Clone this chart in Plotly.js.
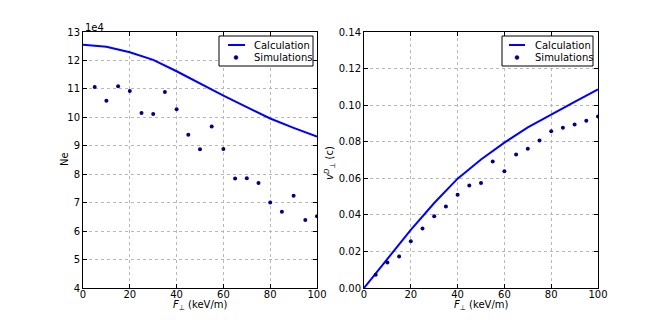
<!DOCTYPE html>
<html>
<head>
<meta charset="utf-8">
<script src="https://cdn.plot.ly/plotly-3.0.1.min.js"></script>
<style>
  html, body { margin: 0; padding: 0; background: #fff; }
  #chart { width: 665px; height: 320px; }
</style>
</head>
<body>
<div id="chart"></div>
<script>
// field values (keV/m)
const calcF = [0, 10, 20, 30, 40, 50, 60, 70, 80, 90, 100];
const simF = [5, 10, 15, 20, 25, 30, 35, 40, 45, 50, 55, 60, 65, 70, 75, 80, 85, 90, 95, 100];

// left panel: Ne, in units of 1e4
const neCalc = [12.55, 12.48, 12.29, 12.02, 11.62, 11.18, 10.76, 10.36, 9.96, 9.63, 9.32];
const neSim = [11.07, 10.58, 11.09, 10.93, 10.15, 10.12, 10.89, 10.28, 9.39, 8.88,
               9.68, 8.89, 7.85, 7.86, 7.69, 7.01, 6.68, 7.24, 6.39, 6.52];

// right panel: drift velocity (c)
const vCalc = [0, 0.0158, 0.0318, 0.0465, 0.0598, 0.0703, 0.0795, 0.0878, 0.095, 0.1018, 0.1086];
const vSim = [0.0073, 0.0139, 0.0172, 0.0255, 0.0325, 0.0393, 0.0446, 0.051, 0.056, 0.0574,
              0.0692, 0.0639, 0.073, 0.0761, 0.0806, 0.0857, 0.0877, 0.0894, 0.0914, 0.0938];

const legendNames = ['Calculation', 'Simulations'];

const W = 665;
const font = {family: 'DejaVu Sans, sans-serif', size: 10, color: '#000'};
const lineColor = '#0000ff';
const dotColor = '#000080';

// pixel -> paper helpers (margins: l=r=0, t=b=32)
const X = px => px / W;
const Y = py => (288 - py) / 256;

const traces = [
  {x: calcF, y: neCalc, mode: 'lines', line: {color: lineColor, width: 2}, xaxis: 'x', yaxis: 'y'},
  {x: simF, y: neSim, mode: 'markers', marker: {color: dotColor, size: 4}, xaxis: 'x', yaxis: 'y'},
  {x: calcF, y: vCalc, mode: 'lines', line: {color: lineColor, width: 2}, xaxis: 'x2', yaxis: 'y2'},
  {x: simF, y: vSim, mode: 'markers', marker: {color: dotColor, size: 4}, xaxis: 'x2', yaxis: 'y2'}
];

function axisBase() {
  return {
    showline: true, linecolor: '#000', linewidth: 1, mirror: 'ticks',
    ticks: 'inside', ticklen: 4, tickcolor: '#000',
    showgrid: true, gridcolor: '#b8b8b8', griddash: 'dot', gridwidth: 1,
    zeroline: false, tickfont: font
  };
}

const shapes = [];
const annotations = [];

function addText(text, px, py, opts) {
  annotations.push(Object.assign({
    text: text, xref: 'paper', yref: 'paper', x: X(px), y: Y(py),
    showarrow: false, font: font
  }, opts || {}));
}

// hand-made legend box (matplotlib style, compact)
function addLegend(box, lineX0, lineX1, dotX, textX) {
  shapes.push({type: 'rect', xref: 'paper', yref: 'paper',
    x0: X(box[0]), x1: X(box[1]), y0: Y(box[2]), y1: Y(box[3]),
    line: {color: '#000', width: 1}, fillcolor: '#fff', layer: 'above'});
  const row1 = box[2] + 9, row2 = box[2] + 21.5;
  shapes.push({type: 'line', xref: 'paper', yref: 'paper',
    x0: X(lineX0), x1: X(lineX1), y0: Y(row1), y1: Y(row1),
    line: {color: lineColor, width: 2}, layer: 'above'});
  shapes.push({type: 'circle', xref: 'paper', yref: 'paper',
    x0: X(dotX - 2), x1: X(dotX + 2), y0: Y(row2 + 2), y1: Y(row2 - 2),
    line: {color: dotColor, width: 0.5}, fillcolor: dotColor, layer: 'above'});
  addText(legendNames[0], textX, row1, {xanchor: 'left', yanchor: 'middle'});
  addText(legendNames[1], textX, row2, {xanchor: 'left', yanchor: 'middle'});
}

addLegend([219, 313, 36, 66], 228, 245, 236, 252);
addLegend([502, 593, 36, 66], 509, 525, 517, 533);

// axis titles and offset label
const xTitleText = '<i>F</i><sub>⊥</sub> (keV/m)';
addText(xTitleText, 200, 305, {xanchor: 'center', yanchor: 'middle'});
addText(xTitleText, 481, 305, {xanchor: 'center', yanchor: 'middle'});
addText('Ne', 64, 159, {xanchor: 'center', yanchor: 'middle', textangle: -90});
addText('<i>v</i><sup><i>D</i></sup><sub>⊥</sub> (c)', 330, 163,
  {xanchor: 'center', yanchor: 'middle', textangle: -90});
addText('1e4', 83, 27.5, {xanchor: 'left', yanchor: 'middle'});

const layout = {
  width: W, height: 320,
  margin: {l: 0, r: 0, t: 32, b: 32},
  paper_bgcolor: '#fff', plot_bgcolor: '#fff',
  font: font, showlegend: false,
  xaxis: Object.assign(axisBase(), {domain: [X(83), X(317)], range: [0, 100], dtick: 20,
    anchor: 'y', ticklabelstandoff: -3}),
  yaxis: Object.assign(axisBase(), {range: [4, 13], dtick: 1, anchor: 'x'}),
  xaxis2: Object.assign(axisBase(), {domain: [X(364), X(598)], range: [0, 100], dtick: 20,
    anchor: 'y2', ticklabelstandoff: -3}),
  yaxis2: Object.assign(axisBase(), {range: [0, 0.14], dtick: 0.02, tickformat: '.2f', anchor: 'x2'}),
  shapes: shapes,
  annotations: annotations
};

Plotly.newPlot('chart', traces, layout, {displayModeBar: false, staticPlot: true});
</script>
</body>
</html>
